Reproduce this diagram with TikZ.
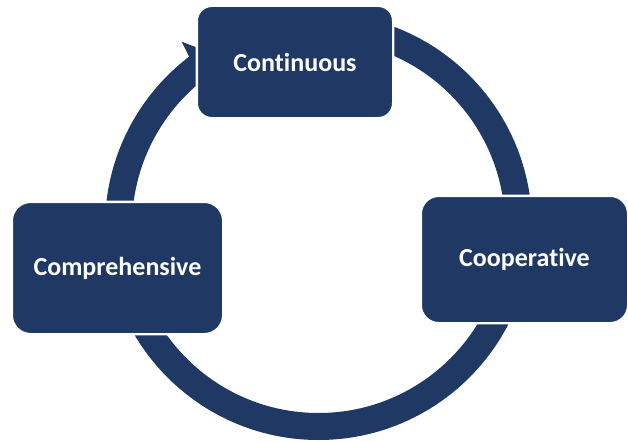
\documentclass[tikz,border=0pt]{standalone}
\usepackage{fontspec}
\setmainfont{Carlito}[Ligatures=NoCommon]
\definecolor{navy}{HTML}{1F3864}
\begin{document}
\begin{tikzpicture}[x=1pt,y=-1pt,
  box/.style={rectangle, fill=navy, draw=white, line width=2.4pt, inner sep=0pt,
    text=white, font=\fontsize{26}{30}\selectfont\bfseries, align=center}]
\useasboundingbox (0,0) rectangle (628,441);
\coordinate (c) at (318.5,226.5);
% ring
\draw[navy, line width=27pt] (c) circle[radius=200pt];
% arrowhead entering Continuous
\coordinate (a1) at (190.7,59.9);
\coordinate (a2) at (181.7,41.7);
\coordinate (a3) at (215,54.5);
\coordinate (a4) at (215,91.6);
\coordinate (a5) at (202.8,75.8);
\fill[navy] (a1) -- (a2) -- (a3) -- (a4) -- (a5) -- cycle;
% boxes
\node[box, minimum width=196.4pt, minimum height=112.4pt, rounded corners=15pt] (cont) at (295,62) {Continuous};
\node[box, minimum width=207.4pt, minimum height=127.4pt, rounded corners=18pt] (coop) at (524.5,259.5) {Cooperative};
\node[box, minimum width=211.4pt, minimum height=132.4pt, rounded corners=19pt] (comp) at (117.5,268) {Comprehensive};
\end{tikzpicture}
\end{document}
